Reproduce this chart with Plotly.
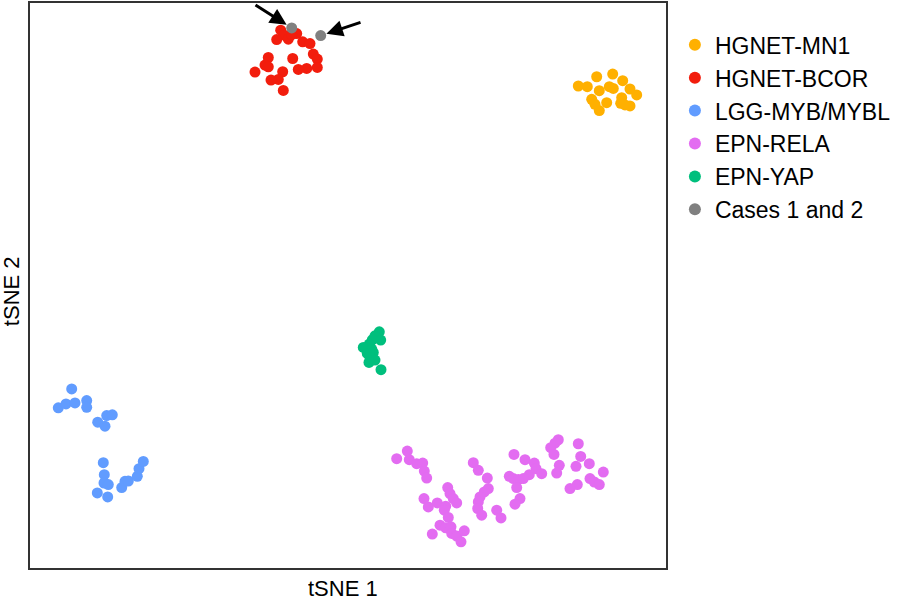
import plotly.graph_objects as go

groups = ["HGNET-MN1", "HGNET-BCOR", "LGG-MYB/MYBL", "EPN-RELA", "EPN-YAP", "Cases 1 and 2"]
colors = ["#FFB000", "#F21D0D", "#619CFF", "#E36CF1", "#00BF7D", "#808080"]

mn1_x = [548.3, 557.3, 566.7, 582.7, 592.7, 569.3, 579.3, 583.3, 600, 606.7, 561.7, 565, 569.3, 576.7, 591.7, 590.7, 595, 600]
mn1_y = [483.7, 483, 493, 495.7, 489, 479, 483, 481.3, 480.7, 474.7, 470.3, 465.3, 459, 467, 472, 466.3, 464.7, 463.7]

bcor_x = [250.7, 254.3, 266.7, 246.7, 258.3, 261.7, 272.7, 280, 283.3, 287.3, 287.3, 276.7, 268.3, 262.7, 238.3, 235, 238.3, 225, 252.7, 248.3, 241, 253.3]
bcor_y = [539.7, 534.7, 536.3, 530.3, 530.7, 535.3, 528, 526.3, 515.7, 510.7, 502.3, 501.3, 500.3, 511.3, 512.3, 504.7, 503, 497.7, 498, 490.3, 489.7, 479.3]

lgg_x = [41.7, 28.3, 36, 45, 56.7, 56.7, 67.7, 75, 76.7, 82.3, 73.3, 74.3, 74, 78.3, 67.3, 77.7, 91.7, 95, 98.3, 107.3, 109, 113.3]
lgg_y = [179.7, 160.7, 164.7, 165.7, 168, 161.3, 146.3, 142.3, 153, 153.7, 105.7, 93.7, 85.3, 83.7, 75.3, 71.3, 80.7, 87, 87.3, 92, 99.7, 107]

rela_x = [366.7, 377.3, 379.3, 386.7, 392.7, 394.3, 396.7, 417.7, 420, 423.3, 426.7, 394, 398.3, 407.3, 415.7, 414.3,
          418.3, 410, 415.7, 421, 421.7, 426.7, 434.3, 431, 402.3, 443.3, 448.3, 457.3, 458.3, 454.3, 450, 448.3,
          447.7, 451.7, 466.7, 471, 484, 495, 504.3, 506, 511.7, 499.3, 479.3, 483.3, 488.3, 493.3, 486.7, 490,
          485, 528.3, 525, 520.7, 524, 529.3, 526.7, 548.3, 550.7, 546, 559.3, 573.3, 560, 564.3, 569.3, 547.3, 540]
rela_y = [109.7, 117.3, 108.7, 104.7, 105.3, 97.3, 90.3, 80.7, 74.7, 69.7, 65.3, 69.7, 61.3, 65.3, 62, 58,
          50.7, 43, 40.3, 41.3, 34.7, 32, 37.3, 26.3, 34, 105.7, 98, 90.3, 79.7, 76.3, 71.3, 66.3,
          59.7, 53, 58, 50.3, 114, 108.7, 105.3, 99.7, 94.7, 93.7, 92, 89.7, 88.7, 89.7, 80.7, 69.7,
          64, 128.7, 125.3, 120.7, 114, 103, 95.3, 124.7, 112, 102, 104.7, 96.3, 89.7, 86.3, 83.7, 83.7, 79.7]

yap_x = [349.3, 345, 342.3, 350.7, 339.3, 333.3, 341.7, 337.3, 343.3, 340, 345, 339, 351]
yap_y = [237, 233, 229, 228.7, 224.7, 221.3, 219.7, 215.3, 216.3, 211.3, 208.7, 206.3, 199]

cases_x = [261.7, 290.7]
cases_y = [542, 534.3]

xs = [mn1_x, bcor_x, lgg_x, rela_x, yap_x, cases_x]
ys = [mn1_y, bcor_y, lgg_y, rela_y, yap_y, cases_y]

fig = go.Figure()
for name, col, x, y in zip(groups, colors, xs, ys):
    fig.add_trace(go.Scatter(x=x, y=y, mode="markers", name=name,
                             marker=dict(color=col, size=11, line=dict(width=0))))

# arrows pointing to the two cases
arrow_tails = [(224, 566), (332, 548)]
for (tx, ty), cx, cy in zip(arrow_tails, cases_x, cases_y):
    fig.add_annotation(x=cx, y=cy, ax=tx, ay=ty, xref="x", yref="y", axref="x", ayref="y",
                       text="", showarrow=True, arrowhead=2, arrowsize=1.1, arrowwidth=3,
                       arrowcolor="black", standoff=6)

fig.add_annotation(text="tSNE 1", xref="paper", yref="paper", x=0.4914, y=-0.0353,
                   xanchor="center", yanchor="middle", height=20, valign="middle",
                   showarrow=False, font=dict(size=22, color="black"))
fig.add_annotation(text="tSNE 2", xref="paper", yref="paper", x=-0.0299, y=0.49,
                   xanchor="center", yanchor="middle", textangle=-90, showarrow=False,
                   font=dict(size=22, color="black"))

axis_common = dict(showgrid=False, zeroline=False, showticklabels=False, ticks="",
                   showline=True, mirror=True, linecolor="#333333", linewidth=2)
fig.update_xaxes(range=[0, 636], **axis_common)
fig.update_yaxes(range=[0, 567], **axis_common)

fig.update_layout(
    width=897, height=599,
    margin=dict(l=30, r=231, t=1, b=31),
    paper_bgcolor="white", plot_bgcolor="white",
    font=dict(family="Liberation Sans, Arial, sans-serif", size=22, color="black"),
    showlegend=True,
    legend=dict(x=1.014, y=0.964, xanchor="left", yanchor="top", font=dict(size=23),
                bgcolor="rgba(0,0,0,0)", itemsizing="constant"),
)

fig.write_html("out.html", config={"displayModeBar": False},
               post_script="document.body.style.margin='0';")
